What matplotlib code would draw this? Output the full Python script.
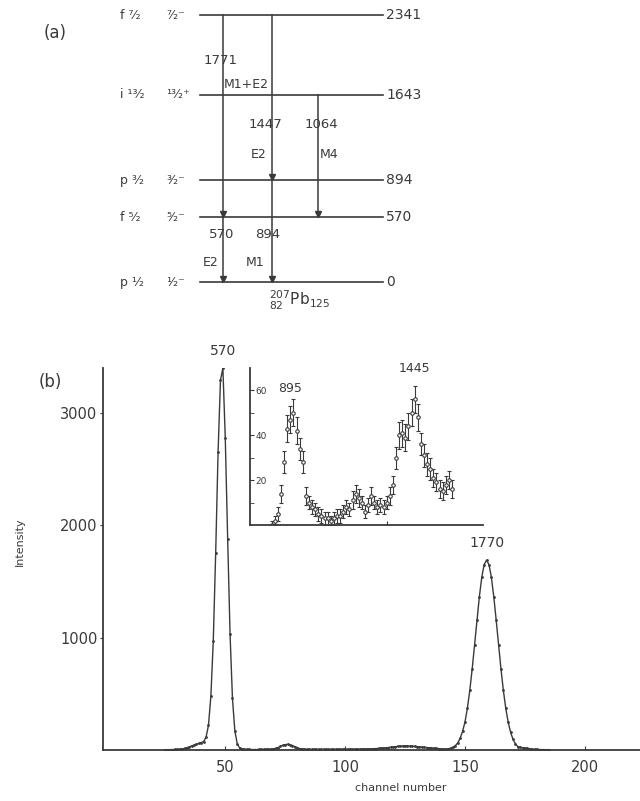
import numpy as np
import matplotlib
matplotlib.use('Agg')
import matplotlib.pyplot as plt

# esquema de niveles del 207Pb (a)
niveles = [2341, 1643, 894, 570, 0]
orbitales = ['f ⁷⁄₂', 'i ¹³⁄₂', 'p ³⁄₂', 'f ⁵⁄₂', 'p ¹⁄₂']
espines = ['⁷⁄₂⁻', '¹³⁄₂⁺', '³⁄₂⁻', '⁵⁄₂⁻', '¹⁄₂⁻']
# transiciones: energia, multipolaridad, nivel inicial, nivel final
trans_energia = ['1771', '1447', '1064', '570', '894']
trans_tipo = ['M1+E2', 'E2', 'M4', 'E2', 'M1']
trans_desde = [2341, 2341, 1643, 570, 894]
trans_hasta = [570, 894, 570, 0, 0]

# espectro gamma (b)
canales = list(range(25, 186))
cuentas = [2, 3, 3, 4, 5,
           6, 8, 10, 14, 20, 28, 36, 45, 52, 58,
           66, 75, 115, 220, 480, 970, 1750, 2650, 3290, 3400,
           2780, 1880, 1030, 460, 170, 55, 18, 9, 6, 5,
           5, 4, 4, 4, 5, 5, 5, 6, 7, 8,
           10, 14, 22, 32, 42, 48, 50, 47, 40, 30,
           20, 13, 9, 7, 6, 6, 5, 5, 5, 5,
           5, 5, 5, 5, 6, 6, 6, 6, 6, 7,
           7, 7, 7, 7, 8, 8, 8, 9, 9, 10,
           10, 11, 12, 13, 14, 16, 18, 20, 22, 25,
           28, 30, 32, 34, 36, 38, 36, 35, 34, 32,
           30, 28, 26, 24, 22, 20, 18, 16, 14, 12,
           10, 9, 9, 9, 16, 24, 39, 64, 105, 167,
           249, 372, 531, 722, 936, 1158, 1366, 1538, 1651, 1690,
           1651, 1538, 1366, 1158, 936, 722, 531, 372, 249, 159,
           97, 56, 31, 24, 20, 18, 14, 10, 7, 6,
           5, 4, 4, 3, 3, 3]
picos = ['570', '1770']
picos_canal = [49, 159]

# recuadro ampliado
rec_cuentas = [0, 2, 5, 14, 28, 43, 47, 50, 42, 34,
               28, 13, 10, 8, 7, 5, 4, 3, 3, 2,
               3, 4, 4, 6, 8, 7, 11, 14, 12, 10,
               6, 9, 13, 10, 8, 9, 8, 10, 13, 18,
               30, 40, 41, 39, 44, 50, 56, 48, 36, 31,
               27, 25, 21, 19, 16, 15, 18, 20, 16]
rec_error = [2, 2, 3, 4, 5, 6, 6, 6, 6, 5,
             5, 4, 3, 3, 3, 3, 3, 3, 3, 2,
             3, 3, 3, 3, 3, 3, 4, 4, 4, 3,
             3, 3, 4, 3, 3, 3, 3, 3, 4, 4,
             5, 6, 6, 6, 6, 6, 6, 6, 5, 5,
             5, 5, 4, 4, 4, 4, 4, 4, 4]
rec_picos = ['895', '1445']
rec_picos_idx = [6, 46]

gris = '#3a3a3a'
W, H = 640, 801

def fx(x):
    return x / W

def fy(y):
    return 1 - y / H

fig = plt.figure(figsize=(6.4, 8.01), dpi=100)
fig.patch.set_facecolor('white')

# ---- panel (a) ----
# eje en pixeles (x) y keV (y)
axa = fig.add_axes([0, fy(320), 1, 320 / H])
axa.set_xlim(0, W)
axa.set_ylim(-333, 2473)
axa.axis('off')

x_ini, x_fin = 200, 383
for e, orb, sp in zip(niveles, orbitales, espines):
    axa.plot([x_ini, x_fin], [e, e], color=gris, lw=1.2)
    axa.text(120, e, orb, fontsize=9, color=gris, va='center', ha='left')
    axa.text(166, e, sp, fontsize=9, color=gris, va='center', ha='left')
    axa.text(386, e, str(e), fontsize=10, color=gris, va='center', ha='left')

x_trans = [223, 272, 318, 223, 272]
for xt, e0, e1 in zip(x_trans, trans_desde, trans_hasta):
    axa.plot([xt, xt], [e0, e1], color=gris, lw=1.1)
    axa.plot(xt, e1 + 30, marker='v', ms=5, color=gris)

# etiquetas de las transiciones (posiciones en pixeles del original)
lab_pos = [(221, 60), (265, 125), (321, 125), (222, 235), (268, 235)]
tipo_pos = [(224, 85, 'left'), (267, 155, 'right'), (320, 155, 'left'),
            (219, 262, 'right'), (264, 262, 'right')]
kev = lambda y: 2473 - y * (2806 / 320)
for t, (x, y) in zip(trans_energia, lab_pos):
    axa.text(x, kev(y), t, fontsize=9.5, color=gris, ha='center', va='center')
for t, (x, y, ha) in zip(trans_tipo, tipo_pos):
    axa.text(x, kev(y), t, fontsize=9, color=gris, ha=ha, va='center')

axa.text(300, kev(300), r'${}^{207}_{82}\mathrm{Pb}_{125}$', fontsize=11,
         color=gris, ha='center', va='center')
fig.text(fx(55), fy(33), '(a)', fontsize=12, color=gris, ha='center', va='center')
fig.text(fx(50), fy(382), '(b)', fontsize=12, color=gris, ha='center', va='center')

# ---- panel (b) ----
ax = fig.add_axes([fx(103), fy(750), fx(640 - 103), (750 - 368) / H])
ax.plot(canales, cuentas, color=gris, lw=1.0, marker='.', ms=2)
ax.set_xlim(-1, 223)
ax.set_ylim(0, 3400)
for s in ['top', 'right']:
    ax.spines[s].set_visible(False)
for s in ['left', 'bottom']:
    ax.spines[s].set_color(gris)
    ax.spines[s].set_linewidth(1.3)
ax.set_xticks([50, 100, 150, 200])
ax.set_yticks([1000, 2000, 3000])
ax.tick_params(axis='x', direction='in', length=3, colors=gris, labelsize=10.5, pad=7)
ax.tick_params(axis='y', direction='out', length=2, colors=gris, labelsize=10.5, pad=2)
fig.text(fx(401), fy(788), 'channel number', fontsize=8, color=gris,
         ha='center', va='center')
fig.text(fx(20), fy(542), 'Intensity', fontsize=8, color=gris,
         ha='center', va='center', rotation=90)

for t, c in zip(picos, picos_canal):
    ax.annotate(t, (c, cuentas[canales.index(c)]), xytext=(0, 7),
                textcoords='offset points', ha='center', va='bottom',
                fontsize=10, color=gris, annotation_clip=False)

# recuadro
axi = fig.add_axes([fx(250), fy(525), fx(483 - 250), (525 - 368) / H])
xi = np.arange(len(rec_cuentas))
axi.errorbar(xi, rec_cuentas, yerr=rec_error, fmt='o', ms=2.5, color=gris,
             elinewidth=0.8, capsize=1.2, mfc='white', mew=0.8)
axi.set_xlim(-7, 68)
axi.set_ylim(0, 70)
for s in ['top', 'right']:
    axi.spines[s].set_visible(False)
for s in ['left', 'bottom']:
    axi.spines[s].set_color(gris)
    axi.spines[s].set_linewidth(1.3)
axi.set_facecolor('none')
axi.set_xticks([1, 37])
axi.set_xticklabels([])
axi.set_yticks([20, 40, 60])
axi.set_yticks([10, 30, 50], minor=True)
axi.tick_params(axis='x', direction='in', length=3, colors=gris)
axi.tick_params(axis='y', which='both', direction='in', length=3, colors=gris,
                labelsize=6.5, pad=-4)
for lab in axi.get_yticklabels():
    lab.set_horizontalalignment('left')
for t, i in zip(rec_picos, rec_picos_idx):
    axi.annotate(t, (i, rec_cuentas[i] + rec_error[i]), xytext=(0, 8),
                 textcoords='offset points', ha='center', va='bottom',
                 fontsize=9, color=gris)

fig.savefig('out.png', dpi=100, facecolor='white')
